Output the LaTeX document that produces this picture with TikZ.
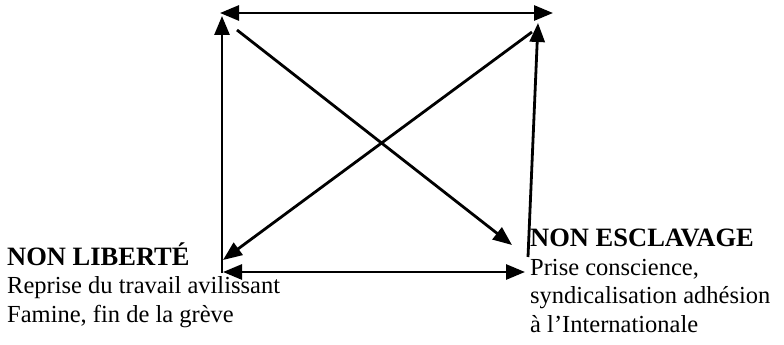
\documentclass[tikz,border=0pt]{standalone}
\usepackage{fontspec}
\setmainfont{Liberation Serif}
\usetikzlibrary{arrows.meta}

\newcommand{\headword}[1]{{\fontsize{26.5}{28.5}\selectfont\textbf{#1}}}

\begin{document}
\begin{tikzpicture}[x=1pt, y=-1pt, >={Triangle[length=19pt,width=15pt]},
  link/.style={line width=2.8pt, black},
  textblock/.style={anchor=base west, align=left, inner sep=0pt,
                    font=\fontsize{24.5}{28.5}\selectfont}]
  \useasboundingbox (0,0) rectangle (784,345);

  % End points of the arrows
  \coordinate (topL) at (220,13);
  \coordinate (topR) at (553,13);
  \coordinate (leftUp) at (222,16);
  \coordinate (leftLow) at (222,273);
  \coordinate (botL) at (223,272);
  \coordinate (botR) at (525,272);
  \coordinate (rightUp) at (538,23);
  \coordinate (rightLow) at (528,257);
  \coordinate (diagAfrom) at (237,30);
  \coordinate (diagAto) at (512,245);
  \coordinate (diagBfrom) at (532,32);
  \coordinate (diagBto) at (223,260);

  % Texts (base = last line)
  \node[textblock] (nonlib) at (7,322)
    {\headword{NON LIBERTÉ}\\Reprise du travail avilissant\\Famine, fin de la grève};
  \node[textblock] (nonesc) at (530,332)
    {\headword{NON ESCLAVAGE}\\Prise conscience,\\syndicalisation adhésion\\à l’Internationale};

  % Arrows
  \draw[link, <->] (topL) -- (topR);
  \draw[link, <->] (botL) -- (botR);
  \draw[link, ->] (leftLow) -- (leftUp);
  \draw[link, ->] (rightLow) -- (rightUp);
  \draw[link, ->] (diagAfrom) -- (diagAto);
  \draw[link, ->] (diagBfrom) -- (diagBto);
\end{tikzpicture}
\end{document}
